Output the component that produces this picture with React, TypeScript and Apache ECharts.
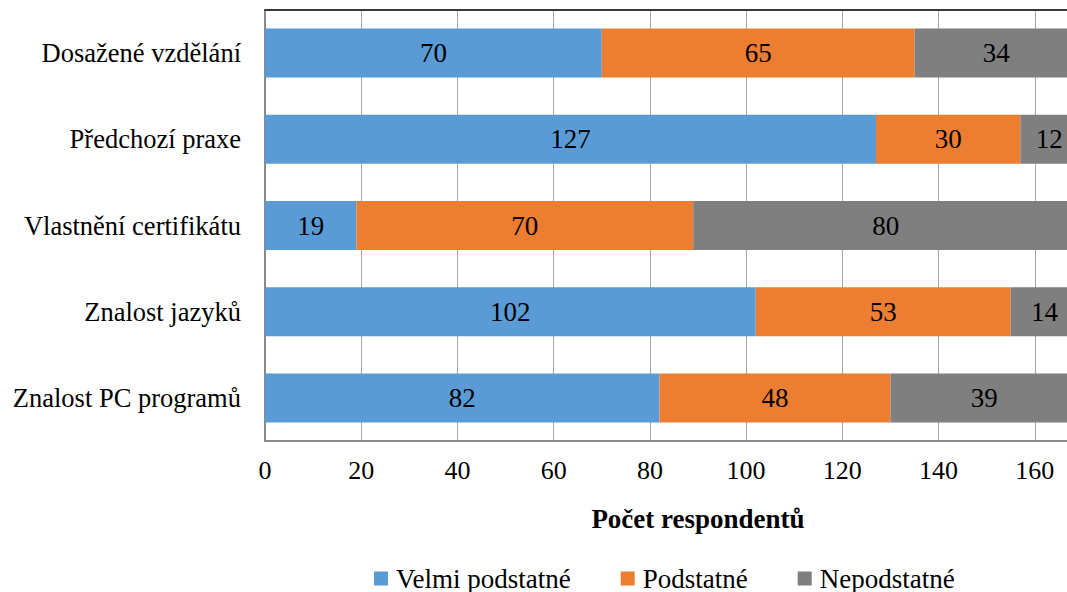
import React, { useEffect, useRef } from "react";
import * as echarts from "echarts";

const categories = [
  "Dosažené vzdělání",
  "Předchozí praxe",
  "Vlastnění certifikátu",
  "Znalost jazyků",
  "Znalost PC programů",
];
const velmiPodstatne = [70, 127, 19, 102, 82];
const podstatne = [65, 30, 70, 53, 48];
const nepodstatne = [34, 12, 80, 14, 39];
const seriesNames = ["Velmi podstatné", "Podstatné", "Nepodstatné"];
const axisTitle = "Počet respondentů";

const FONT = "Liberation Serif";
const SIZE = 27;

export default function App() {
  const ref = useRef<HTMLDivElement>(null);

  useEffect(() => {
    if (!ref.current) return;
    const chart = echarts.init(ref.current, undefined, { renderer: "svg" });
    const label = {
      show: true,
      position: "inside",
      color: "#000",
      fontFamily: FONT,
      fontSize: SIZE,
    };
    const mk = (name: string, data: number[], color: string) => ({
      name,
      type: "bar",
      stack: "total",
      data,
      barWidth: 49,
      itemStyle: { color },
      label,
    });
    chart.setOption({
      animation: false,
      textStyle: { fontFamily: FONT },
      // the value axis runs to 180, but the plot is cut at the right edge
      grid: { left: 265, top: 10, width: 866, height: 431, outerBoundsMode: "none", containLabel: false },
      xAxis: [
        {
          type: "value",
          min: 0,
          max: 180,
          interval: 20,
          name: axisTitle,
          nameLocation: "middle",
          nameGap: 64,
          nameTextStyle: {
            fontFamily: FONT,
            fontSize: SIZE,
            fontWeight: "bold",
            color: "#000",
          },
          axisLine: { show: true, lineStyle: { color: "#898989", width: 2 } },
          axisTick: { show: false },
          axisLabel: {
            color: "#000",
            fontFamily: FONT,
            fontSize: SIZE - 1,
            margin: 16,
            showMaxLabel: false,
          },
          splitLine: { show: true, lineStyle: { color: "#A6A6A6", width: 1 } },
        },
        {
          type: "value",
          position: "top",
          min: 0,
          max: 180,
          interval: 20,
          axisLine: { show: true, lineStyle: { color: "#3a3a3a", width: 2 } },
          axisTick: { show: false },
          axisLabel: { show: false },
          splitLine: { show: false },
        },
      ],
      yAxis: {
        type: "category",
        data: categories,
        inverse: true,
        axisLine: { show: true, lineStyle: { color: "#898989", width: 2 } },
        axisTick: { show: false },
        axisLabel: { color: "#000", fontFamily: FONT, fontSize: 26.5, margin: 24 },
      },
      legend: {
        bottom: 0,
        left: 374,
        padding: 0,
        icon: "rect",
        itemWidth: 14,
        itemHeight: 14,
        itemGap: 50,
        textStyle: { color: "#000", fontFamily: FONT, fontSize: SIZE, padding: [0, 0, 0, 3] },
        data: seriesNames,
      },
      series: [
        mk(seriesNames[0], velmiPodstatne, "#5B9BD5"),
        mk(seriesNames[1], podstatne, "#ED7D31"),
        mk(seriesNames[2], nepodstatne, "#7F7F7F"),
      ],
    });
    return () => chart.dispose();
  }, []);

  return (
    <div
      ref={ref}
      style={{ position: "absolute", left: 0, top: 0, width: 1067, height: 592, overflow: "hidden", background: "#fff" }}
    />
  );
}
